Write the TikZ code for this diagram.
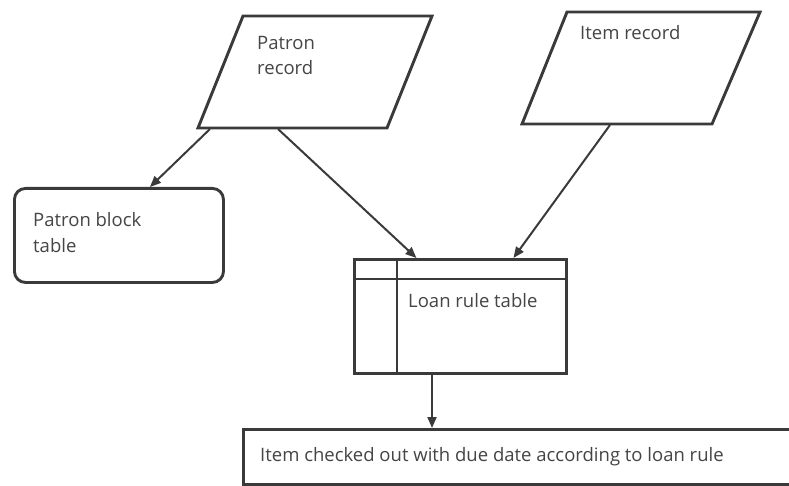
\documentclass[tikz,border=0pt]{standalone}
\usepackage{fontspec}
\setmainfont{Open Sans}
\usetikzlibrary{arrows.meta}
\definecolor{ink}{HTML}{3A3A3A}
\definecolor{txt}{HTML}{454545}
\begin{document}
\begin{tikzpicture}[x=1pt,y=-1pt,
  shapeline/.style={draw=ink,line width=2.9pt,line join=miter},
  lbl/.style={text=txt,font=\fontsize{18.5}{25}\selectfont,align=left,inner sep=0pt,anchor=base west},
  arr/.style={draw=ink,line width=2pt,-{Triangle[length=11pt,width=9pt]}}]
\useasboundingbox[fill=white] (0,0) rectangle (789,486);
% Patron record (parallelogram)
\draw[shapeline] (243,16) -- (432,16) -- (387,128) -- (198,128) -- cycle;
\node[lbl] (prt) at (257,50) {Patron};
\node[lbl] (prt2) at (257,75) {record};
\coordinate (pr1) at (210,129);
\coordinate (pr2) at (278,129);
% Item record (parallelogram)
\draw[shapeline] (567,12) -- (760,12) -- (712,124) -- (522,124) -- cycle;
\node[lbl] (irt) at (580,40) {Item record};
\coordinate (ir1) at (610,125);
% Patron block table
\node[shapeline,rounded corners=11pt,minimum width=209pt,minimum height=94pt,anchor=north west] (pb) at (13,187) {};
\node[lbl] (pbt) at (33,227) {Patron block};
\node[lbl] (pbt2) at (33,252) {table};
% Loan rule table
\node[shapeline,minimum width=212pt,minimum height=114pt,anchor=north west,inner sep=0pt] (lr) at (353,258) {};
\draw[shapeline] (lr.north west |- 0,279) -- (lr.north east |- 0,279);
\draw[shapeline] (397,0 |- lr.north) -- (397,0 |- lr.south);
\node[lbl] (lrt) at (408,307) {Loan rule table};
% Bottom box
\node[shapeline,minimum width=560pt,minimum height=55pt,anchor=north west,inner sep=0pt] (ic) at (242,428) {};
\node[lbl] (ict) at (260,461) {Item checked out with due date according to loan rule};
% Connectors
\draw[arr] (pr1) -- ([xshift=31pt]pb.north);
\draw[arr] (pr2) -- ([xshift=-44pt]lr.north);
\draw[arr] (ir1) -- ([xshift=53pt]lr.north);
\draw[arr] (lr.south -| 432,0) -- (ic.north -| 432,0);
\end{tikzpicture}
\end{document}
